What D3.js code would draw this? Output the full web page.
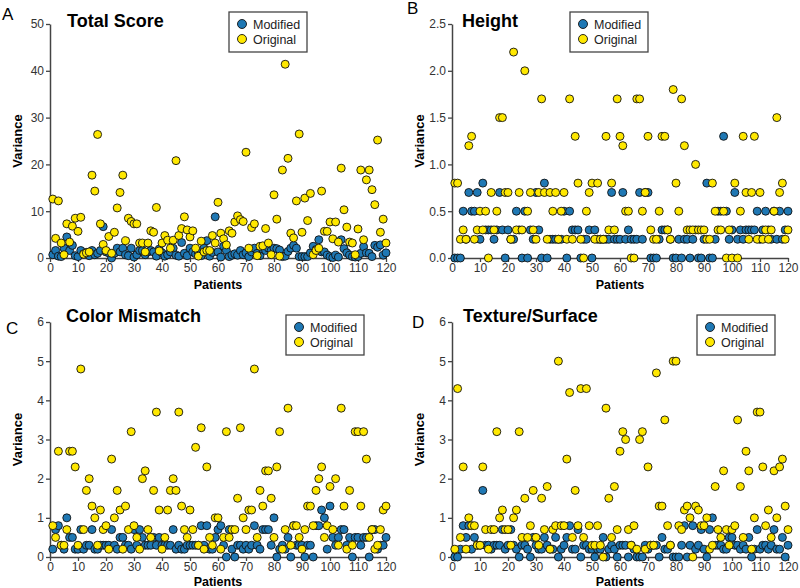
<!DOCTYPE html>
<meta charset="utf-8">
<script src="https://d3js.org/d3.v7.min.js"></script>
<style>
  body { margin: 0; background: #fff; }
  text { font-family: "Liberation Sans", Arial, sans-serif; }
</style>
<body>
<svg id="chart" width="800" height="588"></svg>
<script>
// patients 1..120
const patients = d3.range(1, 121);
const xTicks = [0, 10, 20, 30, 40, 50, 60, 70, 80, 90, 100, 110, 120];

// A - Total Score
const totalModified = [
  0.7,1.6,0.4,0.3,2.1,4.5,1.6,2.7,0.5,0.3, 1.6,0.9,1.2,0.5,1.6,0.7,1.0,1.6,6.7,1.3,
  1.1,0.0,1.0,2.1,1.3,2.1,0.7,0.5,2.1,0.2, 0.7,1.6,1.6,0.7,1.3,1.6,1.3,0.4,1.9,1.1,
  0.4,0.7,1.3,2.1,0.6,0.4,3.3,1.0,0.5,2.1, 1.3,0.9,1.1,0.5,2.1,3.7,0.4,1.2,8.8,1.3,
  0.2,2.5,1.6,0.3,0.6,0.9,0.6,1.6,0.7,1.1, 0.3,1.3,2.1,1.0,0.5,1.9,1.6,2.1,1.6,2.1,
  2.0,1.7,0.3,0.4,1.4,2.1,2.7,2.1,0.3,0.3, 0.3,0.3,1.1,2.5,1.8,3.9,1.3,1.3,0.6,0.3,
  0.1,0.6,0.2,3.9,2.0,1.1,0.6,0.3,0.2,0.3, 1.0,2.4,1.1,1.0,0.3,2.7,2.3,2.8,0.6,1.1
];
const totalOriginal = [
  12.6,4.2,12.2,3.2,0.7,7.3,3.4,6.8,8.5,5.7, 8.7,0.8,1.1,1.3,17.7,14.3,26.4,7.3,2.9,1.6,
  4.6,1.0,5.5,10.7,14.0,17.7,3.7,8.5,7.8,7.3, 7.3,3.2,3.2,1.3,3.2,5.8,5.5,10.8,1.5,3.2,
  4.8,3.8,2.1,3.8,20.8,4.8,6.3,8.8,6.0,4.5, 5.8,2.1,0.4,3.6,1.3,1.6,1.6,4.8,3.2,11.9,
  5.3,4.1,2.8,5.8,5.3,7.7,9.0,8.2,7.8,22.6, 2.1,6.5,7.3,0.5,2.5,2.6,6.3,3.2,0.7,13.5,
  8.3,0.4,18.8,41.4,21.3,5.3,4.3,12.2,26.5,5.5, 12.8,8.0,13.8,0.7,1.6,2.1,14.3,5.7,5.7,7.7,
  4.1,7.7,3.4,19.2,10.3,6.6,3.4,3.2,0.7,6.2, 18.8,3.9,16.7,18.8,14.6,11.4,25.2,5.5,8.3,3.2
];
const totalTicks = [0, 10, 20, 30, 40, 50];

// B - Height
const heightModified = [
  0.0,0.0,0.0,0.5,0.2,0.7,0.5,0.5,0.7,0.2, 0.8,0.3,0.3,0.3,0.2,0.3,0.7,0.3,0.0,0.3,
  0.2,0.2,0.5,0.3,0.0,0.5,0.0,0.3,0.2,0.7, 0.3,0.0,0.8,0.0,0.2,0.2,0.2,0.2,0.2,0.5,
  0.0,0.5,0.3,0.3,0.3,0.0,0.2,0.2,0.3,0.0, 0.3,0.2,0.2,0.2,0.2,0.2,0.7,0.2,0.2,0.2,
  0.7,0.2,0.3,0.2,0.2,0.2,0.7,0.2,0.7,0.7, 0.0,0.0,0.0,0.2,0.3,0.3,0.3,0.2,0.0,0.0,
  0.2,0.0,0.2,0.2,0.0,0.2,0.3,0.0,0.0,0.2, 0.8,0.0,0.0,0.2,0.5,0.5,1.3,0.5,0.2,0.3,
  0.7,0.2,0.3,0.2,0.3,0.3,0.3,0.3,0.5,0.2, 0.3,0.5,0.3,0.2,0.5,0.2,0.5,0.2,0.3,0.5
];
const heightOriginal = [
  0.8,0.8,0.2,0.3,0.2,1.2,1.3,0.2,0.3,0.5, 0.3,0.5,0.0,0.7,0.3,0.5,1.5,1.5,0.7,0.7,
  0.2,2.2,0.3,0.7,0.3,2.0,0.5,0.7,0.3,0.2, 0.7,1.7,0.7,0.2,0.7,0.5,0.7,0.2,0.5,0.7,
  0.2,1.7,0.2,1.3,0.8,0.2,0.0,0.5,0.7,0.8, 0.2,0.8,0.2,0.2,1.3,0.3,0.8,0.3,1.7,1.3,
  1.2,0.5,0.5,0.0,0.0,1.7,1.7,0.5,0.7,1.3, 0.3,0.2,0.2,0.5,1.3,1.3,0.3,0.2,1.8,0.8,
  0.5,1.7,1.2,0.3,0.3,0.3,1.0,0.3,0.3,0.3, 0.2,0.2,0.8,0.5,0.3,0.3,0.5,0.0,0.3,0.0,
  0.8,0.0,0.5,1.3,0.7,0.2,0.7,1.3,0.2,0.7, 0.2,0.3,0.2,0.3,0.5,1.5,0.7,0.8,0.2,0.3
];
const heightTicks = [0, 0.5, 1.0, 1.5, 2.0, 2.5];

// C - Color Mismatch
const colorModified = [
  0.2,0.7,0.8,0.3,0.2,1.0,0.5,0.5,0.2,0.2, 0.7,0.2,0.3,0.3,0.7,0.2,0.2,0.3,0.3,0.3,
  0.3,0.7,0.3,0.2,0.5,0.5,0.3,0.3,0.2,0.7, 0.3,0.7,0.5,0.3,0.3,0.3,0.5,0.3,0.5,0.3,
  0.3,0.3,0.3,0.7,0.2,0.3,0.2,0.2,0.3,0.3, 0.3,0.3,0.3,0.8,0.3,0.8,0.2,0.2,0.5,0.7,
  0.8,0.3,0.0,0.7,0.2,0.0,0.3,0.3,0.2,0.3, 0.2,0.3,0.8,0.3,0.2,0.7,0.7,0.7,0.3,1.0,
  0.0,0.2,0.3,0.2,0.5,0.0,0.8,0.3,0.3,0.3, 0.0,0.3,0.3,0.0,0.8,0.8,1.2,1.0,0.2,1.3,
  0.5,0.3,0.5,0.7,0.7,0.3,0.5,0.0,0.5,0.5, 0.3,0.5,0.5,0.0,0.7,0.7,0.2,0.3,0.3,0.5
];
const colorOriginal = [
  0.8,0.5,2.7,0.3,0.3,0.7,2.7,2.7,2.3,0.3, 4.8,0.7,1.7,2.0,1.3,1.0,0.3,1.2,0.7,0.8,
  0.2,2.5,1.0,1.7,1.2,0.2,1.3,0.7,3.2,0.8, 0.5,0.2,2.0,2.2,0.7,0.5,1.7,3.7,1.2,0.2,
  0.5,1.2,1.7,2.0,1.7,3.7,1.3,0.7,0.5,1.2, 0.7,2.8,0.3,3.3,0.2,2.3,0.5,0.3,1.0,1.0,
  0.2,0.5,3.2,0.5,0.7,0.7,1.5,3.3,1.0,0.7, 1.2,1.2,4.8,0.5,1.7,1.3,2.2,2.2,1.5,0.5,
  2.3,3.2,0.2,0.7,3.8,0.3,0.8,0.8,0.5,0.2, 0.7,1.3,1.3,0.8,1.7,2.0,2.3,0.5,0.8,1.8,
  0.7,2.0,0.3,3.8,1.3,0.2,1.7,0.3,3.2,3.2, 1.3,3.2,2.5,0.5,0.7,0.2,0.3,0.7,1.2,1.3
];
const colorTicks = [0, 1, 2, 3, 4, 5, 6];

// D - Texture/Surface
const textureModified = [
  0.0,0.0,0.2,0.8,0.5,0.8,0.2,0.5,0.3,0.3, 1.7,0.3,0.3,0.2,0.3,0.3,0.3,0.7,0.2,0.3,
  0.7,0.3,0.2,0.0,0.3,0.3,0.2,0.0,0.5,0.3, 0.2,0.2,0.5,0.3,0.2,0.2,0.5,0.0,0.2,0.3,
  0.5,0.8,0.2,0.2,0.7,0.0,0.3,0.3,0.2,0.2, 0.0,0.2,0.2,0.5,0.0,0.2,0.3,0.2,0.0,0.3,
  0.3,0.3,0.0,0.3,0.2,0.0,0.0,0.0,0.3,0.2, 0.3,0.3,0.3,0.0,0.5,0.2,0.2,0.3,0.0,0.0,
  0.0,0.3,0.8,0.0,0.3,0.8,0.2,0.3,0.7,0.2, 0.0,0.7,1.0,0.3,0.3,0.3,0.2,0.2,0.5,0.5,
  0.3,0.3,0.2,0.3,0.2,0.5,0.0,0.2,0.7,0.2, 0.3,0.3,0.2,0.3,0.7,0.2,0.2,0.5,0.0,0.3
];
const textureOriginal = [
  0.2,4.3,0.5,2.3,0.2,1.0,0.8,0.8,0.3,0.3, 2.3,0.7,0.2,0.7,0.7,3.2,1.0,1.2,0.7,0.7,
  0.3,1.0,1.2,3.2,0.5,1.5,0.5,0.8,1.7,0.5, 0.3,1.5,0.7,1.8,0.2,0.7,0.8,5.0,0.8,0.8,
  2.5,4.2,0.5,1.7,0.8,4.3,0.5,4.3,0.8,0.3, 0.3,0.8,0.3,0.0,3.8,1.5,0.5,1.8,0.7,2.7,
  3.2,3.0,0.7,0.3,0.8,0.2,3.0,3.2,0.2,2.3, 0.3,0.3,4.7,1.3,1.3,3.5,0.8,0.3,5.0,5.0,
  0.8,0.7,1.2,1.3,1.0,0.0,1.3,1.2,0.8,0.8, 1.0,0.2,0.3,1.8,0.7,0.5,2.2,0.7,0.3,0.7,
  0.8,3.5,1.8,0.5,2.7,2.2,0.2,1.0,3.7,3.7, 2.3,0.8,1.2,0.5,2.2,1.0,2.3,2.5,1.3,0.7
];
const textureTicks = [0, 1, 2, 3, 4, 5, 6];

const seriesNames = ["Modified", "Original"];
const colors = { Modified: "#1f78b4", Original: "#ffe800" };

const svg = d3.select("#chart");

function drawPanel(p) {
  const g = svg.append("g");

  const x = d3.scaleLinear().domain([0, 120]).range([p.x0, p.x1]);
  const y = d3.scaleLinear().domain([0, p.yTicks[p.yTicks.length - 1]]).range([p.y0, p.y1]);

  // axes
  const xAxis = g.append("g")
      .attr("transform", `translate(0,${p.y0})`)
      .call(d3.axisBottom(x).tickValues(xTicks).tickSize(4).tickSizeOuter(0).tickPadding(1));
  const yAxis = g.append("g")
      .attr("transform", `translate(${p.x0},0)`)
      .call(d3.axisLeft(y).tickValues(p.yTicks).tickFormat(d3.format(p.fmt))
            .tickSize(4).tickSizeOuter(0).tickPadding(2));
  [xAxis, yAxis].forEach(a => {
    a.select(".domain").attr("stroke", "#444").attr("stroke-width", 1.5);
    a.selectAll(".tick line").attr("stroke", "#444").attr("stroke-width", 1.3);
    a.selectAll(".tick text").attr("fill", "#333").style("font-size", "12px");
  });

  // points: Modified first, Original on top
  const series = [
    { name: "Modified", values: p.modified },
    { name: "Original", values: p.original }
  ];
  series.forEach(s => {
    g.append("g")
      .selectAll("circle")
      .data(s.values)
      .join("circle")
        .attr("cx", (d, i) => x(patients[i]))
        .attr("cy", d => y(d))
        .attr("r", 4)
        .attr("fill", colors[s.name])
        .attr("stroke", "#111")
        .attr("stroke-width", 0.9);
  });

  // titles and labels
  g.append("text")
      .attr("x", p.titleX).attr("y", p.titleY)
      .style("font-size", "18px").style("font-weight", "bold")
      .text(p.title);
  g.append("text")
      .attr("x", p.letterX).attr("y", p.letterY)
      .style("font-size", "17px")
      .text(p.letter);
  g.append("text")
      .attr("transform", `translate(${p.x0 - 28},${(p.y0 + p.y1) / 2}) rotate(-90)`)
      .attr("text-anchor", "middle")
      .style("font-size", "13px").style("font-weight", "bold")
      .text("Variance");
  g.append("text")
      .attr("x", (p.x0 + p.x1) / 2).attr("y", p.y0 + p.xLabelGap)
      .attr("text-anchor", "middle")
      .style("font-size", "12.5px").style("font-weight", "bold")
      .text("Patients");

  // legend
  const lg = g.append("g").attr("transform", `translate(${p.legX},${p.legY})`);
  lg.append("rect")
      .attr("width", 78).attr("height", 40)
      .attr("fill", "#fff").attr("stroke", "#444").attr("stroke-width", 1.3);
  seriesNames.forEach((n, i) => {
    lg.append("circle")
        .attr("cx", 13).attr("cy", 12 + i * 15).attr("r", 4.5)
        .attr("fill", colors[n]).attr("stroke", "#111").attr("stroke-width", 0.9);
    lg.append("text")
        .attr("x", 24).attr("y", 16.5 + i * 15)
        .attr("fill", "#222")
        .style("font-size", "12.5px")
        .text(n);
  });
}

drawPanel({ x0: 50, x1: 386, y0: 258, y1: 24, yTicks: totalTicks, fmt: "d",
  modified: totalModified, original: totalOriginal, xLabelGap: 31,
  title: "Total Score", titleX: 67, titleY: 27, letter: "A", letterX: 2, letterY: 20,
  legX: 229, legY: 12 });
drawPanel({ x0: 452, x1: 788, y0: 258, y1: 24, yTicks: heightTicks, fmt: ".1f",
  modified: heightModified, original: heightOriginal, xLabelGap: 31,
  title: "Height", titleX: 462, titleY: 27, letter: "B", letterX: 407, letterY: 14,
  legX: 570, legY: 12 });
drawPanel({ x0: 50, x1: 386, y0: 557, y1: 322, yTicks: colorTicks, fmt: "d",
  modified: colorModified, original: colorOriginal, xLabelGap: 28.5,
  title: "Color Mismatch", titleX: 66, titleY: 322, letter: "C", letterX: 6, letterY: 334,
  legX: 286, legY: 315 });
drawPanel({ x0: 452, x1: 788, y0: 557, y1: 322, yTicks: textureTicks, fmt: "d",
  modified: textureModified, original: textureOriginal, xLabelGap: 28.5,
  title: "Texture/Surface", titleX: 463, titleY: 322, letter: "D", letterX: 412, letterY: 328,
  legX: 697, legY: 315 });
</script>
</body>
